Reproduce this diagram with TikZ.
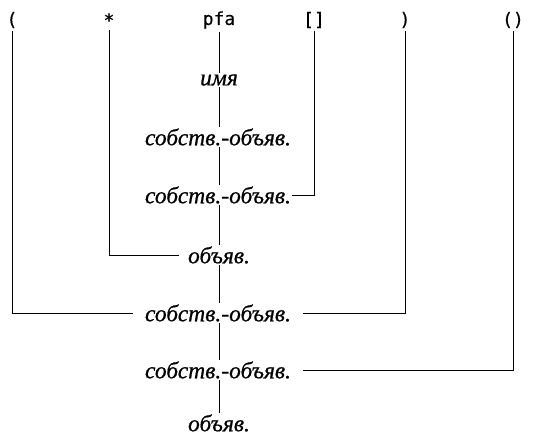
\documentclass[tikz,border=0pt]{standalone}
\usepackage{fontspec}
\setmainfont{Liberation Serif}
\newfontfamily\catfont{Liberation Serif}[ItalicFeatures={FakeBold=0.7}]
\newfontfamily\tokfont{DejaVu Sans Mono}[FakeBold=0.4]
\begin{document}
\begin{tikzpicture}[x=1pt,y=-1pt,line width=0.8pt,
  tok/.style={font=\fontsize{18}{22}\selectfont\tokfont,inner sep=3pt},
  cat/.style={font=\fontsize{23.5}{27}\selectfont\catfont\itshape,inner xsep=0pt,inner ysep=1pt},
  link/.style={draw=black}]
\useasboundingbox (0,0) rectangle (533,440);
% top tokens
\node[tok] (lp)   at (12,20)  {(};
\node[tok] (star) at (109,20) {*};
\node[tok] (pfa)  at (219,20) {pfa};
\node[tok] (br)   at (314,20) {[]};
\node[tok] (rp)   at (405,20) {)};
\node[tok] (par)  at (513,20) {()};
% categories
\node[cat] (n1) at (219,80)  {имя};
\node[cat] (n2) at (218,137) {собств.-объяв.};
\node[cat] (n3) at (218,195) {собств.-объяв.};
\node[cat] (n4) at (219,255) {объяв.};
\node[cat] (n5) at (218,313) {собств.-объяв.};
\node[cat] (n6) at (218,370) {собств.-объяв.};
\node[cat] (n7) at (219,423) {объяв.};
% spine
\draw[link] (pfa) -- (pfa |- n1.north);
\draw[link] (n1.south -| pfa) -- (pfa |- n2.north);
\draw[link] (n2.south -| pfa) -- (pfa |- n3.north);
\draw[link] (n3.south -| pfa) -- (pfa |- n4.north);
\draw[link] (n4.south -| pfa) -- (pfa |- n5.north);
\draw[link] (n5.south -| pfa) -- (pfa |- n6.north);
\draw[link] (n6.south -| pfa) -- (pfa |- n7.north);
% side connectors
\draw[link] (br) |- ([xshift=1pt]n3.east);
\draw[link] (star) |- ([xshift=-9pt]n4.west);
\draw[link] (lp) |- ([xshift=-12pt]n5.west);
\draw[link] (rp) |- ([xshift=12pt]n5.east);
\draw[link] (par) |- ([xshift=12pt]n6.east);
\end{tikzpicture}
\end{document}
